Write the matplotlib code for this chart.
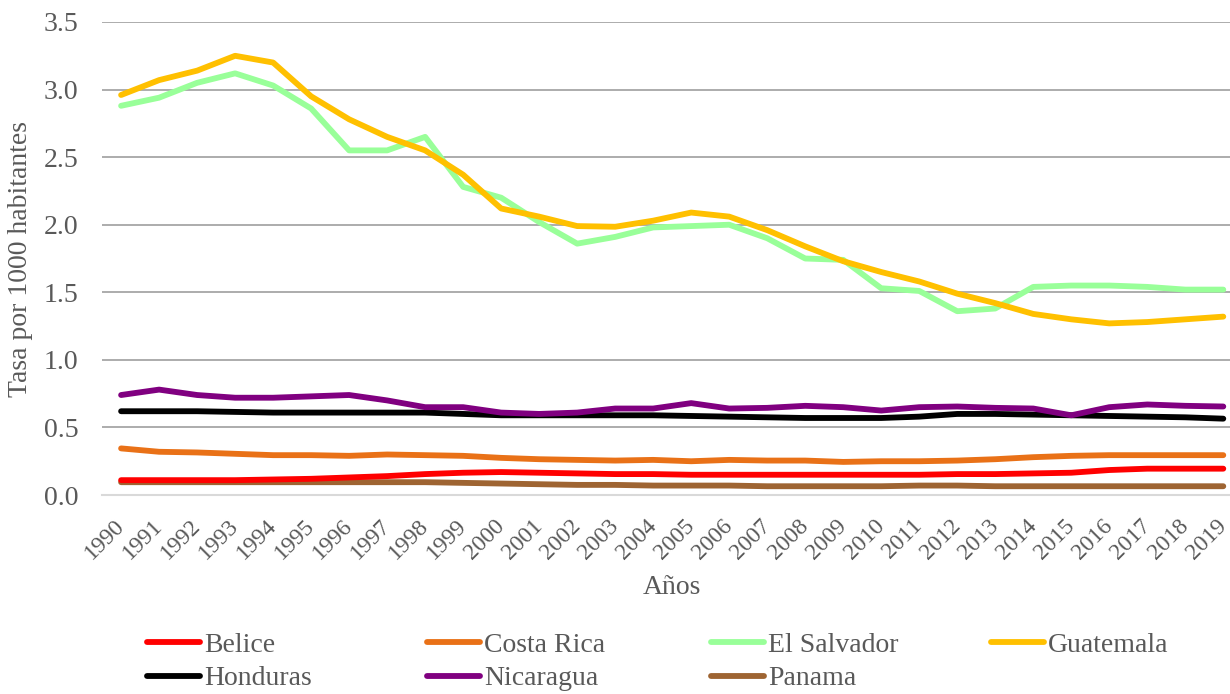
import matplotlib
matplotlib.use("Agg")
from matplotlib import pyplot as plt
from matplotlib.lines import Line2D

plt.rcParams['font.family'] = ['Liberation Serif', 'DejaVu Serif']

# tasas por 1000 habitantes, 1990-2019
anios = list(range(1990, 2020))

belice = [0.11, 0.11, 0.11, 0.11, 0.115, 0.12, 0.13, 0.14, 0.155, 0.165,
          0.17, 0.165, 0.16, 0.155, 0.155, 0.15, 0.15, 0.15, 0.15, 0.15,
          0.15, 0.15, 0.155, 0.155, 0.16, 0.165, 0.185, 0.195, 0.195, 0.195]
costa_rica = [0.345, 0.32, 0.315, 0.305, 0.295, 0.295, 0.29, 0.30, 0.295, 0.29,
              0.275, 0.265, 0.26, 0.255, 0.26, 0.25, 0.26, 0.255, 0.255, 0.245,
              0.25, 0.25, 0.255, 0.265, 0.28, 0.29, 0.295, 0.295, 0.295, 0.295]
el_salvador = [2.88, 2.94, 3.05, 3.12, 3.03, 2.86, 2.55, 2.55, 2.65, 2.28,
               2.20, 2.02, 1.86, 1.91, 1.98, 1.99, 2.00, 1.90, 1.75, 1.74,
               1.53, 1.51, 1.36, 1.38, 1.54, 1.55, 1.55, 1.54, 1.52, 1.52]
guatemala = [2.96, 3.07, 3.14, 3.25, 3.20, 2.95, 2.78, 2.65, 2.55, 2.37,
             2.12, 2.06, 1.99, 1.985, 2.03, 2.09, 2.06, 1.96, 1.84, 1.73,
             1.65, 1.58, 1.49, 1.42, 1.34, 1.30, 1.27, 1.28, 1.30, 1.32]
honduras = [0.62, 0.62, 0.62, 0.615, 0.61, 0.61, 0.61, 0.61, 0.61, 0.60,
            0.59, 0.59, 0.59, 0.59, 0.59, 0.585, 0.58, 0.575, 0.57, 0.57,
            0.57, 0.58, 0.60, 0.60, 0.595, 0.59, 0.585, 0.58, 0.575, 0.565]
nicaragua = [0.74, 0.78, 0.74, 0.72, 0.72, 0.73, 0.74, 0.70, 0.65, 0.65,
             0.61, 0.60, 0.61, 0.64, 0.64, 0.68, 0.64, 0.645, 0.66, 0.65,
             0.625, 0.65, 0.655, 0.645, 0.64, 0.59, 0.65, 0.67, 0.66, 0.655]
panama = [0.095, 0.095, 0.095, 0.095, 0.095, 0.095, 0.095, 0.095, 0.095, 0.09,
          0.085, 0.08, 0.075, 0.075, 0.07, 0.07, 0.07, 0.065, 0.065, 0.065,
          0.065, 0.07, 0.07, 0.065, 0.065, 0.065, 0.065, 0.065, 0.065, 0.065]

paises = ['Belice', 'Costa Rica', 'El Salvador', 'Guatemala',
          'Honduras', 'Nicaragua', 'Panama']
series = [belice, costa_rica, el_salvador, guatemala, honduras, nicaragua, panama]
colores = ['#FF0000', '#E97117', '#99FF99', '#FFC000',
           '#000000', '#800080', '#9E6432']

gris = '#595959'

fig = plt.figure(figsize=(12.3, 6.94), dpi=100)
ax = fig.add_axes([0.083, 0.2867, 0.927, 0.6816])

x = list(range(len(anios)))
# orden de dibujo: las series de abajo primero
orden = [6, 0, 1, 4, 5, 2, 3]
for i in orden:
    ax.plot(x, series[i], color=colores[i], lw=4.2,
            solid_capstyle='round', solid_joinstyle='round', zorder=3)

ax.set_xlim(-0.5, len(anios) - 0.5)
ax.set_ylim(0, 3.5)
ax.set_yticks([0, 0.5, 1.0, 1.5, 2.0, 2.5, 3.0, 3.5])
ax.set_yticklabels(['0.0', '0.5', '1.0', '1.5', '2.0', '2.5', '3.0', '3.5'])
ax.set_xticks(x)
ax.set_xticklabels([str(a) for a in anios], rotation=45, ha='right',
                   va='center', rotation_mode='anchor')

ax.grid(axis='y', color='#A6A6A6', lw=1.3, zorder=0)
for s in ['top', 'right', 'left']:
    ax.spines[s].set_visible(False)
ax.spines['bottom'].set_color('#D9D9D9')
ax.spines['bottom'].set_linewidth(1.5)
ax.tick_params(axis='y', length=0, pad=17, labelsize=20, labelcolor=gris)
ax.tick_params(axis='x', length=0, pad=20, labelsize=17, labelcolor=gris)

ax.set_ylabel('Tasa por 1000 habitantes', fontsize=20, color=gris)
ax.yaxis.set_label_coords(-0.061, 0.5)
ax.set_xlabel('Años', fontsize=20, color=gris)
ax.xaxis.set_label_coords(0.5, -0.17)

# leyenda en cuatro columnas de igual ancho
col_x = [0.1195, 0.347, 0.578, 0.806]
for c in range(4):
    idx = [c, c + 4] if c + 4 < len(paises) else [c]
    handles = [Line2D([0], [0], color=colores[i], lw=4.2, solid_capstyle='round')
               for i in idx]
    leg = fig.legend(handles, [paises[i] for i in idx], loc='upper left',
                     bbox_to_anchor=(col_x[c], 0.089), frameon=False,
                     fontsize=20, handlelength=1.9, handletextpad=0.15,
                     labelspacing=0.3, borderaxespad=0, borderpad=0)
    for t in leg.get_texts():
        t.set_color(gris)

fig.savefig('out.png', dpi=100)
